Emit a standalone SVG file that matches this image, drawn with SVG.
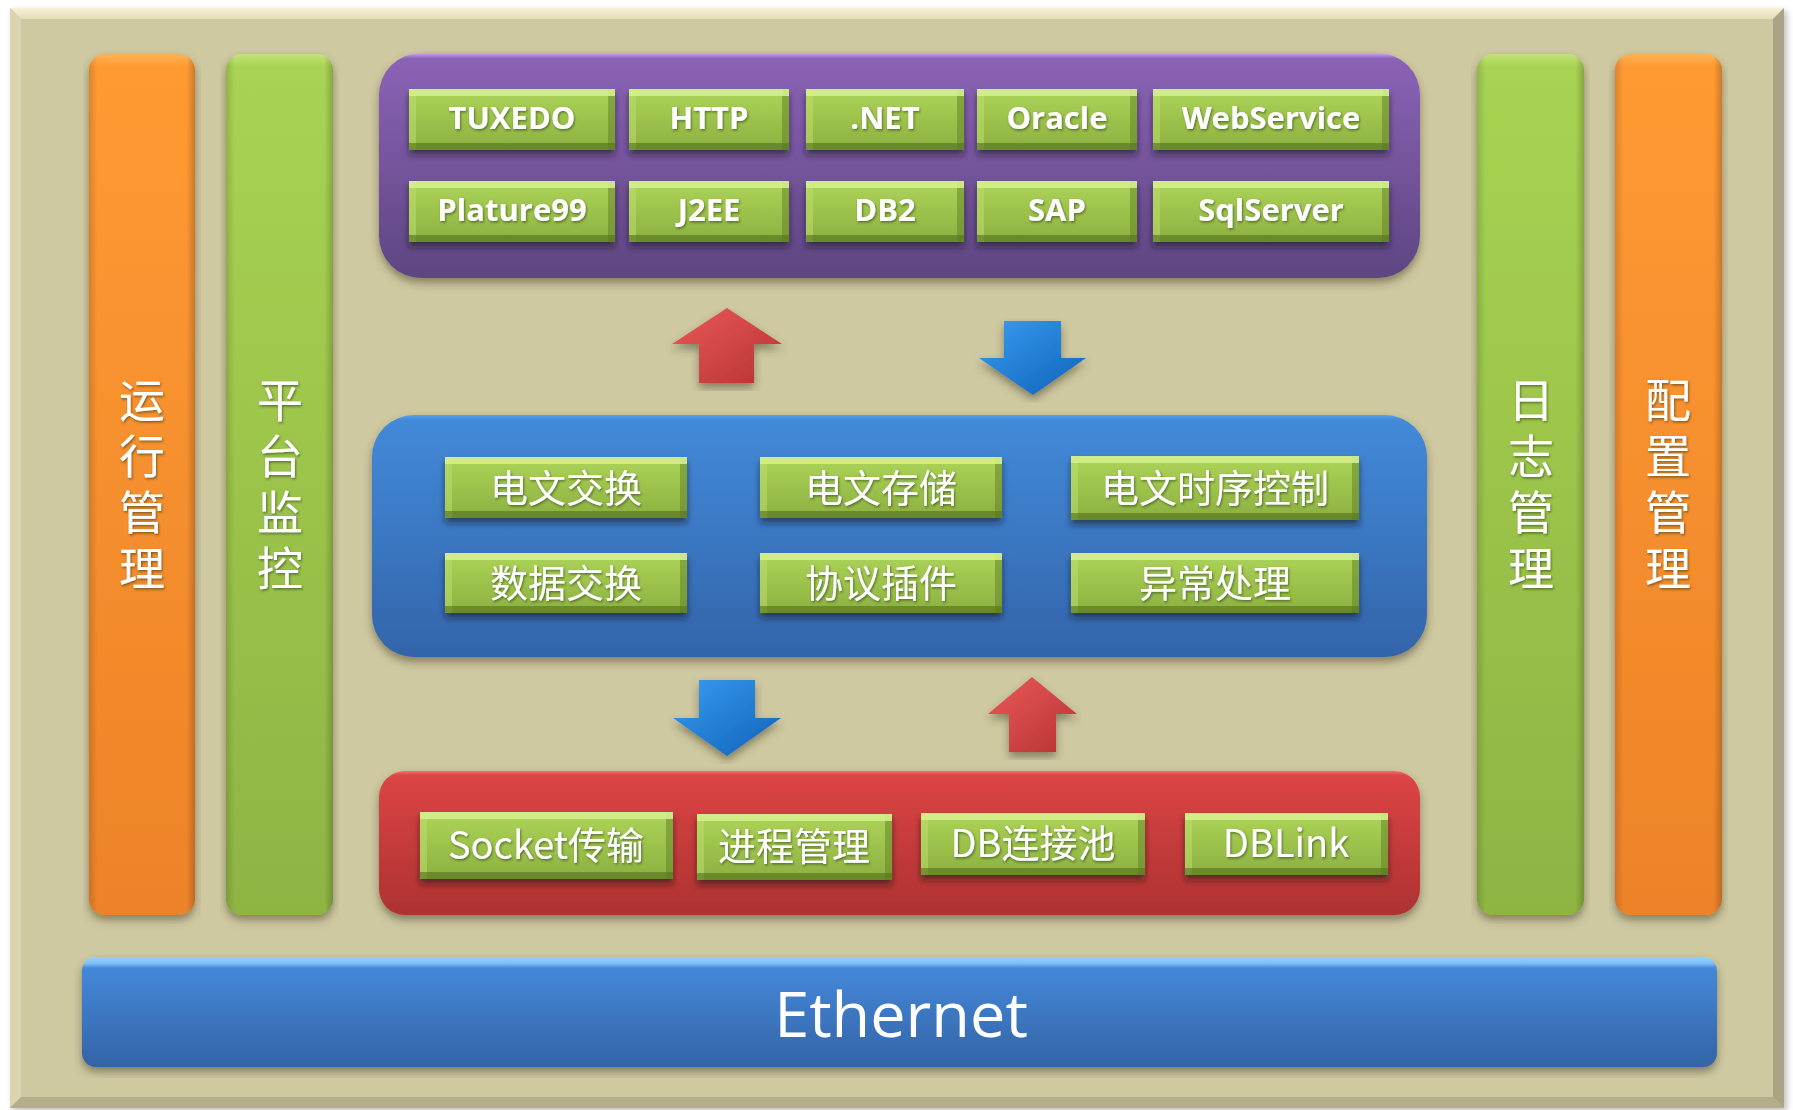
<svg xmlns="http://www.w3.org/2000/svg" width="1793" height="1110" viewBox="0 0 1793 1110">
<defs>
<linearGradient id="gPanelTop" x1="0" y1="0" x2="0" y2="1"><stop offset="0" stop-color="#F6F2D8"/><stop offset="1" stop-color="#E2DCB8"/></linearGradient>
<linearGradient id="gOrange" x1="0" y1="0" x2="0" y2="1"><stop offset="0" stop-color="#FFB255"/><stop offset="0.015" stop-color="#FF9A33"/><stop offset="1" stop-color="#EC8329"/></linearGradient>
<linearGradient id="gGreenBar" x1="0" y1="0" x2="0" y2="1"><stop offset="0" stop-color="#C2E27A"/><stop offset="0.015" stop-color="#A8D352"/><stop offset="1" stop-color="#8EB443"/></linearGradient>
<linearGradient id="gEdge" x1="0" y1="0" x2="1" y2="0"><stop offset="0" stop-color="#000" stop-opacity="0.14"/><stop offset="0.08" stop-color="#000" stop-opacity="0"/><stop offset="0.92" stop-color="#000" stop-opacity="0"/><stop offset="1" stop-color="#000" stop-opacity="0.2"/></linearGradient>
<linearGradient id="gPurple" x1="0" y1="0" x2="0" y2="1"><stop offset="0" stop-color="#CFA6F8"/><stop offset="0.025" stop-color="#8A62B6"/><stop offset="1" stop-color="#5E4681"/></linearGradient>
<linearGradient id="gBlue" x1="0" y1="0" x2="0" y2="1"><stop offset="0" stop-color="#5A9FEC"/><stop offset="0.02" stop-color="#428AD9"/><stop offset="1" stop-color="#3364AA"/></linearGradient>
<linearGradient id="gRed" x1="0" y1="0" x2="0" y2="1"><stop offset="0" stop-color="#F27272"/><stop offset="0.03" stop-color="#DC4444"/><stop offset="1" stop-color="#AE3232"/></linearGradient>
<linearGradient id="gEth" x1="0" y1="0" x2="0" y2="1"><stop offset="0" stop-color="#94D0FF"/><stop offset="0.06" stop-color="#7DBDF6"/><stop offset="0.1" stop-color="#4488D9"/><stop offset="1" stop-color="#3463A6"/></linearGradient>
<linearGradient id="gBtn" x1="0" y1="0" x2="0" y2="1"><stop offset="0" stop-color="#ADD458"/><stop offset="1" stop-color="#8CB040"/></linearGradient>
<linearGradient id="gArrRed" x1="0" y1="0" x2="1" y2="1"><stop offset="0" stop-color="#EA5A5A"/><stop offset="1" stop-color="#B83232"/></linearGradient>
<linearGradient id="gArrBlue" x1="0" y1="0" x2="1" y2="1"><stop offset="0" stop-color="#3A9CF0"/><stop offset="1" stop-color="#0E62B8"/></linearGradient>
<filter id="shadow" x="-5%" y="-5%" width="110%" height="115%">
<feDropShadow dx="0" dy="5" stdDeviation="4" flood-color="#3a3520" flood-opacity="0.5"/>
</filter>
<filter id="panelShadow" x="-2%" y="-2%" width="104%" height="104%">
<feDropShadow dx="3" dy="3" stdDeviation="3" flood-color="#000" flood-opacity="0.25"/>
</filter>
<filter id="bevel" x="-10%" y="-25%" width="120%" height="160%">
<feOffset in="SourceAlpha" dy="7" result="dn"/>
<feComposite in="SourceAlpha" in2="dn" operator="out" result="topS"/>
<feFlood flood-color="#D6F08E" flood-opacity="0.85"/>
<feComposite in2="topS" operator="in" result="topC"/>
<feOffset in="SourceAlpha" dy="-7" result="up"/>
<feComposite in="SourceAlpha" in2="up" operator="out" result="botS"/>
<feFlood flood-color="#5C7A24" flood-opacity="0.75"/>
<feComposite in2="botS" operator="in" result="botC"/>
<feOffset in="SourceAlpha" dx="-7" result="lf"/>
<feComposite in="SourceAlpha" in2="lf" operator="out" result="rS"/>
<feFlood flood-color="#6A8A2C" flood-opacity="0.65"/>
<feComposite in2="rS" operator="in" result="rC"/>
<feOffset in="SourceAlpha" dx="7" result="rt"/>
<feComposite in="SourceAlpha" in2="rt" operator="out" result="lS"/>
<feFlood flood-color="#BFE070" flood-opacity="0.45"/>
<feComposite in2="lS" operator="in" result="lC"/>
<feGaussianBlur in="SourceAlpha" stdDeviation="3" result="bl"/>
<feOffset in="bl" dy="5" result="blo"/>
<feFlood flood-color="#1a1a1a" flood-opacity="0.55"/>
<feComposite in2="blo" operator="in" result="sh"/>
<feMerge><feMergeNode in="sh"/><feMergeNode in="SourceGraphic"/><feMergeNode in="lC"/><feMergeNode in="rC"/><feMergeNode in="topC"/><feMergeNode in="botC"/></feMerge>
</filter>
<filter id="ts" x="-10%" y="-20%" width="120%" height="150%">
<feDropShadow dx="1" dy="1.5" stdDeviation="0.8" flood-color="#203010" flood-opacity="0.55"/>
</filter>
</defs>
<style>
.btn{fill:url(#gBtn);filter:url(#bevel)}
.en{font-family:"Open Sans","Liberation Sans",sans-serif;font-weight:700;font-size:31px;fill:#fff;text-anchor:middle;filter:url(#ts)}
.cn{font-family:"Noto Sans CJK SC",sans-serif;font-size:38px;fill:#fff;text-anchor:middle;filter:url(#ts)}
.vt{font-family:"Noto Sans CJK SC",sans-serif;font-size:46px;fill:#fff;writing-mode:vertical-rl;letter-spacing:10px;filter:url(#ts)}
.eth{font-family:"Open Sans","Liberation Sans",sans-serif;font-size:63px;fill:#fff;text-anchor:middle}
.edge{fill:url(#gEdge)}
.sh{filter:url(#shadow)}
</style>
<rect width="1793" height="1110" fill="#fff"/>
<g id="panel">
<rect x="10" y="8" width="1774" height="1100" fill="#CFC9A2" filter="url(#panelShadow)"/>
<polygon points="10,8 1784,8 1773,19 21,19" fill="url(#gPanelTop)"/>
<polygon points="10,8 21,19 21,1097 10,1108" fill="#DAD4B0"/>
<polygon points="1784,8 1784,1108 1773,1097 1773,19" fill="#A9A483"/>
<polygon points="10,1108 21,1097 1773,1097 1784,1108" fill="#B4AE8B"/>
</g>
<g id="bar-yunxing">
<rect class="sh" x="89" y="54" width="106" height="861" rx="16" fill="url(#gOrange)"/>
<rect class="edge" x="89" y="54" width="106" height="861" rx="16"/>
<text class="vt" x="142" y="377">运行管理</text>
</g>
<g id="bar-pingtai">
<rect class="sh" x="226" y="54" width="107" height="861" rx="16" fill="url(#gGreenBar)"/>
<rect class="edge" x="226" y="54" width="107" height="861" rx="16"/>
<text class="vt" x="280" y="377">平台监控</text>
</g>
<g id="bar-rizhi">
<rect class="sh" x="1477" y="54" width="107" height="861" rx="16" fill="url(#gGreenBar)"/>
<rect class="edge" x="1477" y="54" width="107" height="861" rx="16"/>
<text class="vt" x="1531" y="377">日志管理</text>
</g>
<g id="bar-peizhi">
<rect class="sh" x="1615" y="54" width="107" height="861" rx="16" fill="url(#gOrange)"/>
<rect class="edge" x="1615" y="54" width="107" height="861" rx="16"/>
<text class="vt" x="1668" y="377">配置管理</text>
</g>
<g id="layer-top">
<rect class="sh" x="379" y="53" width="1041" height="225" rx="42" fill="url(#gPurple)"/>
<g id="btn-tuxedo"><rect class="btn" x="409" y="89" width="206" height="61"/><text class="en" x="512" y="129">TUXEDO</text></g>
<g id="btn-http"><rect class="btn" x="629" y="89" width="160" height="61"/><text class="en" x="709" y="129">HTTP</text></g>
<g id="btn-net"><rect class="btn" x="806" y="89" width="158" height="61"/><text class="en" x="885" y="129">.NET</text></g>
<g id="btn-oracle"><rect class="btn" x="977" y="89" width="160" height="61"/><text class="en" x="1057" y="129">Oracle</text></g>
<g id="btn-webservice"><rect class="btn" x="1153" y="89" width="236" height="61"/><text class="en" x="1271" y="129">WebService</text></g>
<g id="btn-plature99"><rect class="btn" x="409" y="181" width="206" height="61"/><text class="en" x="512" y="221">Plature99</text></g>
<g id="btn-j2ee"><rect class="btn" x="629" y="181" width="160" height="61"/><text class="en" x="709" y="221">J2EE</text></g>
<g id="btn-db2"><rect class="btn" x="806" y="181" width="158" height="61"/><text class="en" x="885" y="221">DB2</text></g>
<g id="btn-sap"><rect class="btn" x="977" y="181" width="160" height="61"/><text class="en" x="1057" y="221">SAP</text></g>
<g id="btn-sqlserver"><rect class="btn" x="1153" y="181" width="236" height="61"/><text class="en" x="1271" y="221">SqlServer</text></g>
</g>
<g id="layer-middle">
<rect class="sh" x="372" y="415" width="1055" height="242" rx="42" fill="url(#gBlue)"/>
<g id="btn-dwjh"><rect class="btn" x="445" y="457" width="242" height="61"/><text class="cn" x="566" y="502">电文交换</text></g>
<g id="btn-dwcc"><rect class="btn" x="760" y="457" width="242" height="61"/><text class="cn" x="881" y="502">电文存储</text></g>
<g id="btn-dwsxkz"><rect class="btn" x="1071" y="456" width="288" height="64"/><text class="cn" x="1215" y="502">电文时序控制</text></g>
<g id="btn-sjjh"><rect class="btn" x="445" y="553" width="242" height="60"/><text class="cn" x="566" y="597">数据交换</text></g>
<g id="btn-xycj"><rect class="btn" x="760" y="553" width="242" height="60"/><text class="cn" x="881" y="597">协议插件</text></g>
<g id="btn-yccl"><rect class="btn" x="1071" y="553" width="288" height="60"/><text class="cn" x="1215" y="597">异常处理</text></g>
</g>
<g id="layer-bottom">
<rect class="sh" x="379" y="771" width="1041" height="144" rx="26" fill="url(#gRed)"/>
<g id="btn-socket"><rect class="btn" x="420" y="812" width="253" height="67"/><text class="cn" x="546" y="859">Socket传输</text></g>
<g id="btn-jcgl"><rect class="btn" x="697" y="814" width="195" height="66"/><text class="cn" x="794" y="860">进程管理</text></g>
<g id="btn-dbljc"><rect class="btn" x="921" y="813" width="224" height="62"/><text class="cn" x="1033" y="857">DB连接池</text></g>
<g id="btn-dblink"><rect class="btn" x="1185" y="813" width="203" height="62"/><text class="cn" x="1286" y="857">DBLink</text></g>
</g>
<g id="ethernet">
<rect class="sh" x="82" y="957" width="1635" height="110" rx="14" fill="url(#gEth)"/>
<text class="eth" x="901" y="1037">Ethernet</text>
</g>
<g id="connectors">
<polygon class="sh" points="727,308 782,344 754,344 754,383 699,383 699,344 672,344" fill="url(#gArrRed)"/>
<polygon class="sh" points="1004,321 1061,321 1061,358 1086,358 1033,395 979,358 1004,358" fill="url(#gArrBlue)"/>
<polygon class="sh" points="699,680 755,680 755,718 781,718 727,756 673,718 699,718" fill="url(#gArrBlue)"/>
<polygon class="sh" points="1032,677 1077,714 1056,714 1056,752 1009,752 1009,714 988,714" fill="url(#gArrRed)"/>
</g>
</svg>
